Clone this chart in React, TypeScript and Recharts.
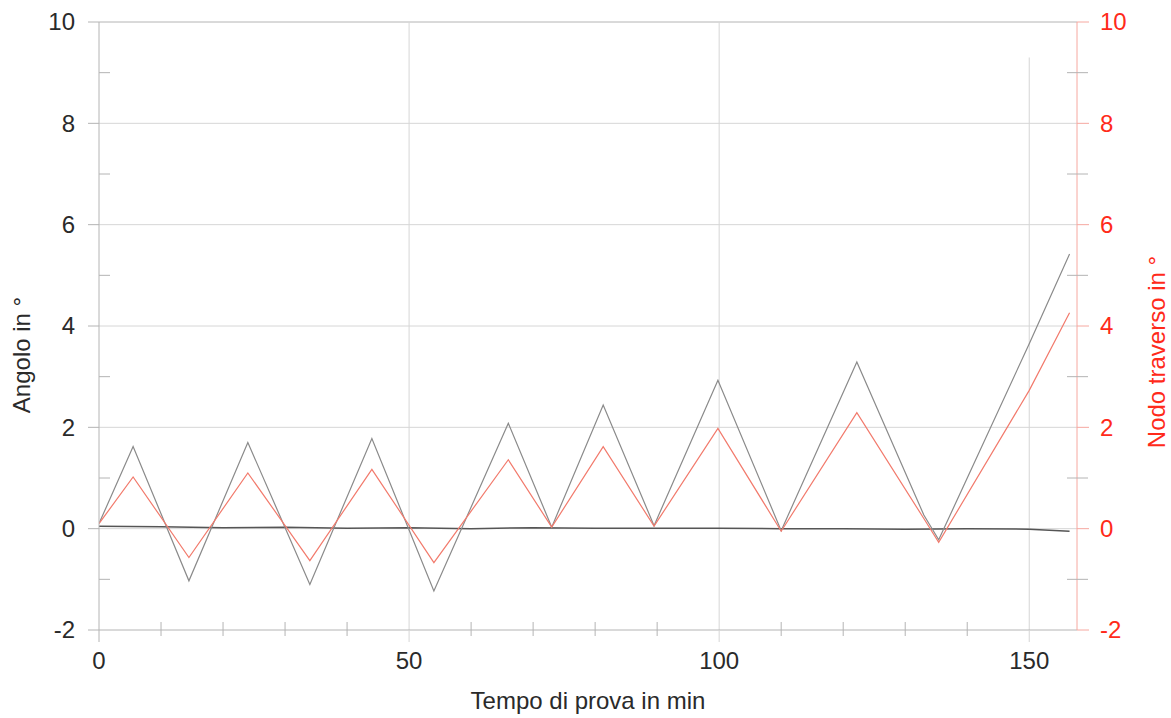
import React from 'react';
import { LineChart, Line, XAxis, YAxis, ReferenceLine, Label } from 'recharts';

// turning points of the load cycles (min)
const turnTimes = [0, 5.5, 14.5, 24, 34, 44, 54, 66, 73, 81.3, 89.5, 99.8, 110, 122.2, 133, 135.4, 150, 156.5];
// Angolo in ° (grey)
const angleValues = [0.1, 1.62, -1.03, 1.7, -1.1, 1.78, -1.23, 2.08, 0.03, 2.44, 0.06, 2.93, -0.04, 3.29, 0.27, -0.22, 3.65, 5.42];
// Nodo traverso in ° (red)
const nodeValues = [0.1, 1.02, -0.57, 1.1, -0.63, 1.17, -0.67, 1.36, 0.03, 1.62, 0.05, 1.98, -0.05, 2.29, 0.2, -0.27, 2.73, 4.26];
// reference trace near zero
const baseTimes = [0, 10, 20, 30, 40, 50, 60, 70, 80, 90, 100, 110, 120, 130, 140, 150, 156.5];
const baseValues = [0.05, 0.04, 0.02, 0.03, 0.01, 0.02, 0.0, 0.02, 0.01, 0.01, 0.01, 0.0, 0.0, -0.01, 0.0, -0.01, -0.05];

const xTicks = [0, 10, 20, 30, 40, 50, 60, 70, 80, 90, 100, 110, 120, 130, 140, 150];
const yTicks = [-2, -1, 0, 1, 2, 3, 4, 5, 6, 7, 8, 9, 10];
const yGrid = [0, 2, 4, 6, 8, 10];
const xGrid = [50, 100];

const angleData = turnTimes.map((t, i) => ({ t, v: angleValues[i] }));
const nodeData = turnTimes.map((t, i) => ({ t, v: nodeValues[i] }));
const baseData = baseTimes.map((t, i) => ({ t, v: baseValues[i] }));

const FONT = '"Liberation Sans", Arial, sans-serif';
const FS = 24;
const AXIS = '#b4b4b4';
const GRID = '#d6d6d6';
const RED = '#ff2a1a';
const RED_AXIS = '#f6a8a0';
const TXT = '#2a2a2a';

const XTick = ({ x, y, payload }: any) => {
  const v = payload.value;
  const major = v % 50 === 0;
  return (
    <g>
      {major
        ? <line x1={x} x2={x} y1={y} y2={y + 12} stroke={v === 0 ? AXIS : GRID} />
        : <line x1={x} x2={x} y1={y - 8} y2={y + 6} stroke={AXIS} />}
      {major && (
        <text x={x} y={y + 31} dy="0.35em" textAnchor="middle" fontSize={FS} fill={TXT} fontFamily={FONT}>{v}</text>
      )}
    </g>
  );
};

const LeftTick = ({ x, y, payload }: any) => {
  const v = payload.value;
  const major = v % 2 === 0;
  return (
    <g>
      {major
        ? <line x1={x - 11} x2={x} y1={y} y2={y} stroke={AXIS} />
        : <line x1={x} x2={x + 11} y1={y} y2={y} stroke={AXIS} />}
      {major && (
        <text x={x - 24} y={y} dy="0.35em" textAnchor="end" fontSize={FS} fill={TXT} fontFamily={FONT}>{v}</text>
      )}
    </g>
  );
};

const RightTick = ({ x, y, payload }: any) => {
  const v = payload.value;
  const major = v % 2 === 0;
  return (
    <g>
      {major
        ? <line x1={x} x2={x + 12} y1={y} y2={y} stroke={RED_AXIS} />
        : <line x1={x - 10} x2={x + 11} y1={y} y2={y} stroke={AXIS} />}
      {major && (
        <text x={x + 23} y={y} dy="0.35em" textAnchor="start" fontSize={FS} fill={RED} fontFamily={FONT}>{v}</text>
      )}
    </g>
  );
};

const SideTitle = ({ viewBox, value, dx, dy, color }: any) => {
  const cx = viewBox.x + dx;
  const cy = viewBox.y + viewBox.height / 2 + dy;
  return (
    <text x={cx} y={cy} dy="0.35em" textAnchor="middle" fontSize={FS} fill={color} fontFamily={FONT}
      transform={`rotate(-90 ${cx} ${cy})`}>{value}</text>
  );
};

export default function App() {
  return (
    <div style={{ position: 'absolute', left: 0, top: 0, background: '#fff' }}>
      <LineChart width={1171} height={718} margin={{ top: 22, right: 0, bottom: 0, left: 0 }}>
        <XAxis
          dataKey="t"
          type="number"
          domain={[0, 157.7]}
          ticks={xTicks}
          interval={0}
          allowDataOverflow
          height={88}
          tickSize={0}
          tickMargin={0}
          tickLine={false}
          axisLine={{ stroke: AXIS }}
          tick={<XTick />}
        >
          <Label value="Tempo di prova in min" position="insideBottom" offset={9}
            style={{ fontSize: FS, fill: TXT, fontFamily: FONT }} />
        </XAxis>
        <YAxis
          yAxisId="left"
          type="number"
          domain={[-2, 10]}
          ticks={yTicks}
          interval={0}
          width={99}
          tickSize={0}
          tickMargin={0}
          tickLine={false}
          axisLine={{ stroke: AXIS }}
          tick={<LeftTick />}
        >
          <Label content={<SideTitle value="Angolo in °" dx={22} dy={29} color={TXT} />} />
        </YAxis>
        <YAxis
          yAxisId="right"
          orientation="right"
          type="number"
          domain={[-2, 10]}
          ticks={yTicks}
          interval={0}
          width={94}
          tickSize={0}
          tickMargin={0}
          tickLine={false}
          axisLine={{ stroke: RED_AXIS }}
          tick={<RightTick />}
        >
          <Label content={<SideTitle value="Nodo traverso in °" dx={80} dy={26} color={RED} />} />
        </YAxis>
        {yGrid.map((g) => (
          <ReferenceLine key={'y' + g} yAxisId="left" y={g} stroke={g === 10 ? AXIS : GRID} strokeWidth={1} />
        ))}
        {xGrid.map((g) => (
          <ReferenceLine key={'x' + g} yAxisId="left" x={g} stroke={GRID} strokeWidth={1} />
        ))}
        <ReferenceLine yAxisId="left" segment={[{ x: 150, y: 9.3 }, { x: 150, y: -2 }]} stroke={GRID} strokeWidth={1} />
        <Line data={baseData} yAxisId="left" dataKey="v" type="linear" stroke="#555" strokeWidth={1.5}
          dot={false} isAnimationActive={false} />
        <Line data={angleData} yAxisId="left" dataKey="v" type="linear" stroke="#8a8a8a" strokeWidth={1.2}
          dot={false} isAnimationActive={false} />
        <Line data={nodeData} yAxisId="right" dataKey="v" type="linear" stroke="#f27a6c" strokeWidth={1.2}
          dot={false} isAnimationActive={false} />
      </LineChart>
    </div>
  );
}
